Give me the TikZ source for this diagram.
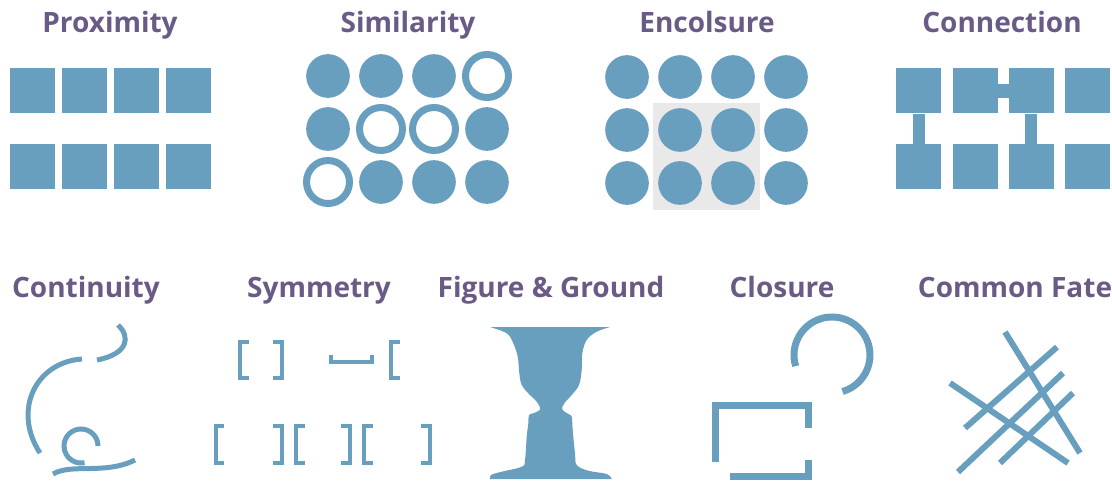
\documentclass[tikz,border=0pt]{standalone}
\usepackage{fontspec}
\setmainfont{Open Sans}
\usetikzlibrary{positioning}

\definecolor{gsblue}{RGB}{104,158,190}
\definecolor{gspurple}{RGB}{106,90,134}
\definecolor{gsgrey}{RGB}{233,233,233}

\begin{document}
\begin{tikzpicture}[
  x=0.75pt, y=-0.75pt,
  title/.style={font=\fontsize{21}{25}\selectfont\bfseries, text=gspurple,
    anchor=base, inner sep=0pt},
  block/.style={fill=gsblue, minimum size=33.75pt, inner sep=0pt, anchor=north west},
  dot/.style={circle, fill=gsblue, minimum size=32.75pt, inner sep=0pt},
  ring/.style={circle, draw=gsblue, line width=5.25pt, fill=white,
    minimum size=32.25pt, inner sep=0pt},
  link/.style={draw=gsblue, line width=9pt},
  curl/.style={draw=gsblue, line width=3.75pt},
  brk/.style={draw=gsblue, line width=3pt, line join=miter},
  shut/.style={draw=gsblue, line width=5.25pt, line join=miter},
  crossline/.style={draw=gsblue, line width=4.5pt}
]
\useasboundingbox (0,0) rectangle (1112,482);

% ---------- Row 1: titles ----------
\node[title] (prox) at (110,32)  {Proximity};
\node[title] (simi) at (408,32)  {Similarity};
\node[title] (encl) at (707,32)  {Encolsure};
\node[title] (conn) at (1002,32) {Connection};

% ---------- Proximity ----------
\foreach \c in {0,...,3} {
  \node[block] (p-1-\c) at ({10+52*\c},68)  {};
  \node[block] (p-2-\c) at ({10+52*\c},144) {};
}

% ---------- Similarity ----------
\foreach \kinds [count=\r] in {{dot,dot,dot,ring},{dot,ring,ring,dot},{ring,dot,dot,dot}}
  \foreach \k [count=\c] in \kinds
    \node[\k] (s-\r-\c) at ({275+53*\c},{23+53*\r}) {};

% ---------- Encolsure ----------
\fill[gsgrey] (653,103) rectangle (760,210);
\foreach \r in {1,2,3}
  \foreach \c in {1,...,4}
    \node[dot] (e-\r-\c) at ({574+53*\c},{24+53*\r}) {};

% ---------- Connection ----------
\foreach \c in {0,...,3} {
  \node[block] (c-1-\c) at ({896+56.3*\c},68)  {};
  \node[block] (c-2-\c) at ({896+56.3*\c},144) {};
}
\draw[link] (c-1-0.south) -- (c-2-0.north);
\draw[link] (c-1-2.south) -- (c-2-2.north);
\draw[link, line width=10.5pt] (c-1-1.east) -- (c-1-2.west);

% ---------- Row 2: titles ----------
\node[title] (cont) at (86,297)   {Continuity};
\node[title] (symm) at (319,297)  {Symmetry};
\node[title] (figg) at (551,297)  {Figure \& Ground};
\node[title] (clos) at (782,297)  {Closure};
\node[title] (comf) at (1015,297) {Common Fate};

% ---------- Continuity ----------
\draw[curl] (118,325) .. controls (131,337) and (128,354) .. (97,360);
\draw[curl] (82,359) .. controls (36,362) and (12,410) .. (40,453);
\draw[curl] (98,446) arc[start angle=0, end angle=-282, radius=17];
\draw[curl] (53,474) .. controls (72,463) and (105,475) .. (135,460);

% ---------- Symmetry ----------
\draw[brk] (248.5,342) -| (239.5,377.5) -- ++(9,0);
\draw[brk] (273,342) -| (281.5,377.5) -- ++(-8.5,0);
\draw[brk] (330.5,355) |- (371.5,361.5) -- ++(0,-6.5);
\draw[brk] (399.5,342) -| (390.5,377.5) -- ++(9,0);
\foreach \x/\d in {215.5/1, 281.5/-1, 296/1, 349.5/-1, 364/1, 429.5/-1}
  \draw[brk] ({\x+8.5*\d},425.5) -| (\x,463) -- ++({8.5*\d},0);

% ---------- Figure & Ground ----------
\fill[gsblue] plot[smooth, tension=0.6] coordinates {(490,327) (506.7,333.3)
    (513.3,343.3) (517.7,356.7) (519.3,373.3) (521.7,385) (528.3,393.3)
    (536.7,401.7) (540,409.3) (533.3,413.3) (529,415) (528.3,423.3)
    (526.7,436.7) (525,460) (521.7,466.7) (501.7,471.7) (491,475) (490,479)}
  -- plot[smooth, tension=0.6] coordinates {(611.7,479) (606.7,474)
    (588.3,470.7) (576.7,465) (575,453.3) (572.7,430) (571.7,416.7)
    (568.3,414) (562.3,409.3) (564.3,403.3) (571.7,395) (579,385)
    (581.7,370) (582.3,353.3) (586.7,340) (596.7,331.7) (610,327)}
  -- cycle;

% ---------- Closure ----------
\draw[shut] (832,355) ++(163:38) arc[start angle=163, end angle=434, radius=38];
\draw[shut] (808,428) |- (715,405) -- (715,462);
\draw[shut] (808,460) |- (730,476.5);

% ---------- Common Fate ----------
\draw[crossline] (1005,332) -- (1080,453);
\draw[crossline] (950,383) -- (1068,463);
\draw[crossline] (965,428) -- (1057,347);
\draw[crossline] (958,472) -- (1063,373);
\draw[crossline] (1000,463) -- (1073,393);

\end{tikzpicture}
\end{document}
